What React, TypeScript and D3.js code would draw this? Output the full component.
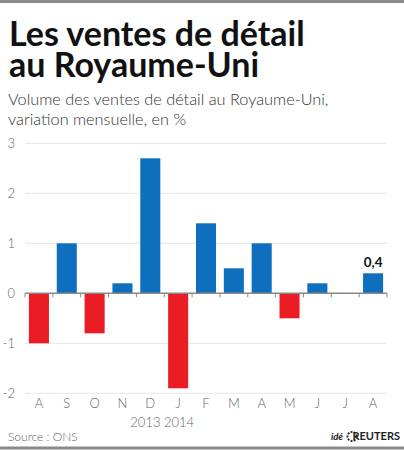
import React from "react";
import * as d3 from "d3";

const months = ["A", "S", "O", "N", "D", "J", "F", "M", "A", "M", "J", "J", "A"];
const values = [-1.0, 1.0, -0.8, 0.2, 2.7, -1.9, 1.4, 0.5, 1.0, -0.5, 0.2, 0.0, 0.4];
const yTicks = [3, 2, 1, 0, -1, -2];
const yearLabel = "2013 2014";
const lastLabel = "0,4";

const W = 404;
const H = 450;
const FONT = "Lato, 'Open Sans', sans-serif";

export default function App() {
  const x = d3.scaleBand<number>().domain(d3.range(months.length)).range([25, 387]).paddingInner(0.28).paddingOuter(0.14);
  const y = d3.scaleLinear().domain([-2, 3]).range([393.3, 143.3]);
  const step = x.step();
  const x0 = 25;
  const blue = "#0f6fbf";
  const red = "#ea1c24";
  const grey = "#666";
  const last = values.length - 1;

  return (
    <svg width={W} height={H} style={{ position: "absolute", left: 0, top: 0, background: "#fff" }}>
      <rect x={0} y={0} width={W} height={H} fill="#fff" />
      <line x1={0} x2={W} y1={1.5} y2={1.5} stroke="#8a8a8a" strokeWidth={3} />
      <line x1={0} x2={W} y1={448} y2={448} stroke="#8a8a8a" strokeWidth={3} />

      <text x={9} y={46} fontFamily={FONT} fontWeight={700} fontSize={34} fill="#111">Les ventes de détail</text>
      <text x={9} y={77} fontFamily={FONT} fontWeight={700} fontSize={34} fill="#111">au Royaume-Uni</text>
      <text x={8} y={105} fontFamily={FONT} fontWeight={300} fontSize={16.3} fill="#333">Volume des ventes de détail au Royaume-Uni,</text>
      <text x={8} y={125} fontFamily={FONT} fontWeight={300} fontSize={16.3} fill="#333">variation mensuelle, en %</text>

      {yTicks.map((t) => (
        <g key={t}>
          {t !== 0 && <line x1={25} x2={387} y1={y(t)} y2={y(t)} stroke="#e6e6e6" strokeWidth={1} />}
          <text x={15} y={y(t) + 4.5} textAnchor="end" fontFamily={FONT} fontWeight={300} fontSize={13} fill={grey}>{t}</text>
        </g>
      ))}

      {values.map((v, i) => (
        <rect
          key={i}
          x={x(i)}
          width={x.bandwidth()}
          y={Math.min(y(v), y(0))}
          height={Math.abs(y(v) - y(0))}
          fill={v >= 0 ? blue : red}
        />
      ))}

      <line x1={25} x2={387} y1={y(0)} y2={y(0)} stroke="#888" strokeWidth={1.5} />
      {d3.range(months.length + 1).map((i) => (
        <line key={i} x1={x0 + i * step} x2={x0 + i * step} y1={y(0)} y2={y(0) + 4} stroke="#888" strokeWidth={1} />
      ))}

      {months.map((m, i) => (
        <text key={i} x={(x(i) as number) + x.bandwidth() / 2} y={408} textAnchor="middle" fontFamily={FONT} fontWeight={300} fontSize={13} fill={grey}>{m}</text>
      ))}
      <text x={x0 + 5 * step - 2} y={427} textAnchor="middle" fontFamily={FONT} fontWeight={300} fontSize={13} fill={grey}>{yearLabel}</text>

      <text x={(x(last) as number) + x.bandwidth() / 2} y={y(values[last]) - 6} textAnchor="middle" fontFamily={FONT} fontWeight={700} fontSize={13.5} fill="#111">{lastLabel}</text>

      <text x={8} y={441} fontFamily={FONT} fontWeight={300} fontSize={12} fill={grey}>Source : ONS</text>

      <text x={343} y={440} textAnchor="end" fontFamily={FONT} fontWeight={700} fontStyle="italic" fontSize={9.5} fill="#222">idé</text>
      <circle cx={352} cy={436.5} r={4.5} fill="none" stroke="#333" strokeWidth={2} strokeDasharray="2 1.2" />
      <text x={400} y={440} textAnchor="end" fontFamily={FONT} fontWeight={700} fontSize={11} fill="#222">REUTERS</text>
    </svg>
  );
}
